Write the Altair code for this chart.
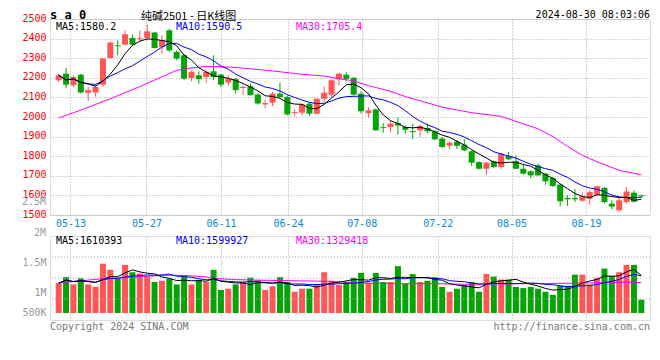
import altair as alt
import pandas as pd

# ---------------- data ----------------
OPEN = [2187, 2221, 2162, 2216, 2123, 2125, 2165, 2301, 2366, 2369,
        2403, 2397, 2403, 2431, 2357, 2442, 2332, 2315, 2199, 2213,
        2204, 2233, 2216, 2176, 2193, 2148, 2157, 2115, 2064, 2073,
        2119, 2102, 2020, 2022, 2068, 2017, 2093, 2114, 2192, 2216,
        2200, 2119, 2019, 2039, 1949, 1949, 1969, 1949, 1928, 1932,
        1944, 1927, 1890, 1854, 1874, 1859, 1825, 1770, 1736, 1774,
        1745, 1801, 1774, 1736, 1723, 1753, 1711, 1689, 1655, 1587,
        1587, 1573, 1583, 1604, 1638, 1558, 1524, 1566, 1614, 1600]
HIGH = [2221, 2250, 2213, 2221, 2153, 2165, 2301, 2386, 2391, 2442,
        2420, 2442, 2471, 2434, 2417, 2451, 2340, 2323, 2238, 2233,
        2238, 2315, 2221, 2213, 2199, 2162, 2170, 2120, 2090, 2127,
        2175, 2110, 2039, 2068, 2076, 2097, 2156, 2192, 2226, 2229,
        2204, 2131, 2051, 2044, 1969, 1983, 1998, 1957, 1966, 1961,
        1966, 1932, 1898, 1876, 1884, 1886, 1830, 1774, 1770, 1779,
        1818, 1821, 1804, 1757, 1728, 1762, 1716, 1694, 1660, 1600,
        1631, 1614, 1626, 1650, 1643, 1575, 1587, 1643, 1626, 1604]
LOW = [2179, 2148, 2153, 2120, 2082, 2103, 2153, 2298, 2315, 2366,
       2362, 2383, 2391, 2349, 2323, 2332, 2289, 2187, 2182, 2170,
       2176, 2187, 2153, 2162, 2120, 2111, 2108, 2063, 2046, 2056,
       2097, 2008, 2003, 2008, 2005, 2012, 2076, 2102, 2161, 2182,
       2110, 2017, 1997, 1929, 1920, 1923, 1910, 1915, 1889, 1898,
       1918, 1881, 1842, 1836, 1836, 1825, 1750, 1733, 1706, 1740,
       1736, 1779, 1733, 1706, 1689, 1699, 1655, 1643, 1544, 1546,
       1566, 1566, 1553, 1597, 1558, 1529, 1518, 1558, 1563, 1587]
CLOSE = [2213, 2165, 2204, 2125, 2137, 2153, 2298, 2380, 2361, 2422,
         2369, 2402, 2437, 2352, 2391, 2340, 2298, 2196, 2230, 2193,
         2230, 2204, 2165, 2196, 2137, 2153, 2112, 2069, 2071, 2119,
         2102, 2013, 2025, 2064, 2017, 2093, 2124, 2187, 2221, 2195,
         2114, 2029, 2034, 1932, 1945, 1966, 1957, 1935, 1923, 1954,
         1927, 1886, 1847, 1869, 1853, 1830, 1767, 1736, 1767, 1745,
         1813, 1784, 1736, 1711, 1702, 1702, 1672, 1648, 1570, 1580,
         1580, 1595, 1617, 1646, 1566, 1543, 1575, 1620, 1568, 1595]
VOLUME = [1160000, 1260000, 1140000, 1240000, 1140000, 1100000, 1480000, 1380000, 1230000, 1460000,
          1340000, 1320000, 1270000, 1180000, 1200000, 1230000, 1140000, 1290000, 1140000, 1210000,
          1180000, 1380000, 1050000, 1070000, 1140000, 1180000, 1250000, 1210000, 1050000, 1110000,
          1260000, 1180000, 1020000, 1070000, 1070000, 1140000, 1340000, 1200000, 1130000, 1180000,
          1250000, 1330000, 1160000, 1330000, 1180000, 1180000, 1440000, 1150000, 1310000, 1180000,
          1200000, 1260000, 1100000, 1020000, 1070000, 1130000, 1180000, 1020000, 1310000, 1270000,
          1220000, 1220000, 1100000, 1080000, 1100000, 1070000, 1020000, 970000, 1120000, 1120000,
          1300000, 1300000, 1140000, 1250000, 1400000, 1280000, 1340000, 1460000, 1460000, 890000]

# MA30 lines (candle index, value)
MA30_IDX = [0, 3, 7, 11, 14, 16, 18, 20, 23, 26, 29, 33, 36, 38, 40, 42, 45, 47, 49, 52,
            56, 60, 63, 65, 67, 69, 71, 73, 76, 79]
MA30_VAL = [1995, 2035, 2093, 2155, 2205, 2238, 2250, 2258, 2255, 2246, 2235, 2218, 2209, 2196,
            2184, 2160, 2131, 2104, 2083, 2050, 2022, 2003, 1965, 1940, 1900, 1850, 1805, 1772,
            1728, 1705]
VMA30_IDX = [0, 6, 12, 14, 17, 20, 21, 24, 28, 37, 41, 46, 51, 55, 64, 72, 77, 79]
VMA30_VAL = [1165000, 1235000, 1273000, 1290000, 1288000, 1262000, 1240000, 1219000, 1208000,
             1190000, 1164000, 1153000, 1153000, 1142000, 1153000, 1164000, 1180000, 1168000]

X_TICK_POS = [1.6, 11.9, 22.0, 31.1, 41.1, 51.4, 61.4, 71.5]
X_TICK_LABELS = ["05-13", "05-27", "06-11", "06-24", "07-08", "07-22", "08-05", "08-19"]
PRICE_TICKS = [1500, 1600, 1700, 1800, 1900, 2000, 2100, 2200, 2300, 2400, 2500]
VOL_TICKS = [672000, 1000000, 1500000]
VOL_TICK_LABELS = ["500K", "1M", "1.5M"]
VOL_EXTRA_TICKS = [2000000, 2500000]
VOL_EXTRA_LABELS = ["2M", "2.5M"]
VOL_DOMAIN = [557000, 1934000]
VOL_BASE = 672000

MAIN_LEGEND = ["MA5:1580.2", "MA10:1590.5", "MA30:1705.4"]
VOL_LEGEND = ["MA5:1610393", "MA10:1599927", "MA30:1329418"]
HEADER = ["s a 0", "纯碱2501  -  日K线图", "2024-08-30 08:03:06"]
FOOTER = ["Copyright 2024 SINA.COM", "http://finance.sina.com.cn"]

# ---------------- styling ----------------
RED = "#ff5555"
GREEN = "#04a404"
BLUE = "#0000ff"
MAG = "#ff00ff"
AXBLUE = "#0a88d8"
GRID = "#a8a8a8"
MONO = "DejaVu Sans Mono"
W = 600
H_MAIN = 196
H_VOL = 84

df = pd.DataFrame({"i": list(range(len(OPEN))), "open": OPEN, "high": HIGH,
                   "low": LOW, "close": CLOSE, "volume": VOLUME})

x_scale = alt.Scale(domain=[-0.5, len(OPEN) - 0.5], nice=False, zero=False)
y_scale = alt.Scale(domain=[PRICE_TICKS[0], PRICE_TICKS[-1]], nice=False, zero=False)
v_scale = alt.Scale(domain=VOL_DOMAIN, nice=False, zero=False)

parts = [f"datum.value < {p + 1} ? '{l}'" for p, l in zip(X_TICK_POS[:-1], X_TICK_LABELS[:-1])]
x_label_expr = " : ".join(parts) + f" : '{X_TICK_LABELS[-1]}'"
vparts = [f"datum.value < {v + 1000} ? '{l}'" for v, l in zip(VOL_TICKS[:-1], VOL_TICK_LABELS[:-1])]
v_label_expr = " : ".join(vparts) + f" : '{VOL_TICK_LABELS[-1]}'"

color_cond = alt.condition("datum.close >= datum.open", alt.value(RED), alt.value(GREEN))


def txt(text, x, y, color, size=10, align="left", font=MONO, weight="normal"):
    return alt.Chart(pd.DataFrame({"t": [text]})).mark_text(
        align=align, baseline="middle", font=font, fontSize=size, color=color,
        fontWeight=weight).encode(text="t:N", x=alt.value(x), y=alt.value(y))


x_axis_main = alt.Axis(values=X_TICK_POS, labelExpr=x_label_expr, grid=True, gridDash=[1, 2],
                       gridColor=GRID, ticks=False, domain=False, labelColor=AXBLUE,
                       labelFont=MONO, labelFontSize=10, labelPadding=3, title=None,
                       labelOverlap=False, labelFlush=False)
y_axis_main = alt.Axis(values=PRICE_TICKS, format="d", grid=True, gridDash=[1, 2], gridColor=GRID,
                       ticks=False, domain=False, labelColor="#ff0000", labelFont=MONO,
                       labelFontSize=10, labelPadding=4, title=None, labelOverlap=False,
                       labelOffset=-1)


def X(field):
    return alt.X(field, scale=x_scale, axis=x_axis_main)


def Y(field):
    return alt.Y(field, scale=y_scale, axis=y_axis_main)


base = alt.Chart(df)
wick = base.mark_rule(strokeWidth=1).encode(x=X("i:Q"), y=Y("low:Q"), y2="high:Q", color=color_cond)
body = base.mark_bar(size=6).encode(x=X("i:Q"), y=Y("open:Q"), y2="close:Q", color=color_cond)
ma5 = base.transform_window(ma5="mean(close)", frame=[-4, 0], sort=[alt.SortField("i")]).mark_line(
    color="black", strokeWidth=1).encode(x=X("i:Q"), y=Y("ma5:Q"))
ma10 = base.transform_window(ma10="mean(close)", frame=[-9, 0], sort=[alt.SortField("i")]).mark_line(
    color=BLUE, strokeWidth=1).encode(x=X("i:Q"), y=Y("ma10:Q"))
ma30 = alt.Chart(pd.DataFrame({"i": MA30_IDX, "v": MA30_VAL})).mark_line(
    color=MAG, strokeWidth=1).encode(x=X("i:Q"), y=Y("v:Q"))

main = alt.layer(
    wick, body, ma30, ma10, ma5,
    txt(MAIN_LEGEND[0], 6, 8, "black"),
    txt(MAIN_LEGEND[1], 126, 8, BLUE),
    txt(MAIN_LEGEND[2], 246, 8, MAG),
    txt(HEADER[0], 0, -4, "black", size=12, weight="bold"),
    txt(HEADER[1], 91, -2.5, "black", size=11, font="Noto Sans CJK SC"),
    txt(HEADER[2], W, -4, "black", size=10, align="right"),
).properties(width=W, height=H_MAIN)

# ---------------- volume panel ----------------
x_axis_vol = alt.Axis(values=X_TICK_POS, labels=False, grid=True, gridDash=[1, 2], gridColor=GRID,
                      ticks=False, domain=False, title=None)
y_axis_vol = alt.Axis(values=VOL_TICKS, labelExpr=v_label_expr, grid=False, ticks=False,
                      domain=False, labelColor="#999999", labelFont=MONO, labelFontSize=10,
                      labelPadding=4, title=None, labelOverlap=False)


def VX(field):
    return alt.X(field, scale=x_scale, axis=x_axis_vol)


def VY(field):
    return alt.Y(field, scale=v_scale, axis=y_axis_vol)


vgrid_vals = [VOL_DOMAIN[0] + (VOL_DOMAIN[1] - VOL_DOMAIN[0]) * k / 4 for k in (1, 2, 3)]
vgrid = alt.Chart(pd.DataFrame({"v": vgrid_vals})).mark_rule(
    strokeDash=[1, 2], color=GRID, strokeWidth=1).encode(y=VY("v:Q"))
vbars = base.mark_bar(size=6).encode(x=VX("i:Q"), y=VY("volume:Q"), y2=alt.datum(VOL_BASE),
                                     color=color_cond)
vma5 = base.transform_window(m="mean(volume)", frame=[-4, 0], sort=[alt.SortField("i")]).mark_line(
    color="black", strokeWidth=1).encode(x=VX("i:Q"), y=VY("m:Q"))
vma10 = base.transform_window(m="mean(volume)", frame=[-9, 0], sort=[alt.SortField("i")]).mark_line(
    color=BLUE, strokeWidth=1).encode(x=VX("i:Q"), y=VY("m:Q"))
vma30 = alt.Chart(pd.DataFrame({"i": VMA30_IDX, "v": VMA30_VAL})).mark_line(
    color=MAG, strokeWidth=1).encode(x=VX("i:Q"), y=VY("v:Q"))
vextra = alt.Chart(pd.DataFrame({"v": VOL_EXTRA_TICKS, "t": VOL_EXTRA_LABELS})).mark_text(
    align="right", baseline="middle", font=MONO, fontSize=10, color="#999999", dy=1).encode(
    y=VY("v:Q"), x=alt.value(-4), text="t:N")

vol = alt.layer(
    vbars, vgrid, vma30, vma10, vma5, vextra,
    txt(VOL_LEGEND[0], 6, 5, "black"),
    txt(VOL_LEGEND[1], 126, 5, BLUE),
    txt(VOL_LEGEND[2], 246, 5, MAG),
    txt(FOOTER[0], 0, 91, "#777777"),
    txt(FOOTER[1], W, 91, "#777777", align="right"),
).properties(width=W, height=H_VOL)

chart = alt.vconcat(main, vol, spacing=21, bounds="flush").properties(
    padding={"left": 13, "top": 0, "right": 0, "bottom": 4}
).configure_view(stroke="#a0a0a0", strokeWidth=1.5).configure_axis(
    labelOverlap=False).configure(background="white")

chart.save("out.html", embed_options={"renderer": "svg", "actions": False})
